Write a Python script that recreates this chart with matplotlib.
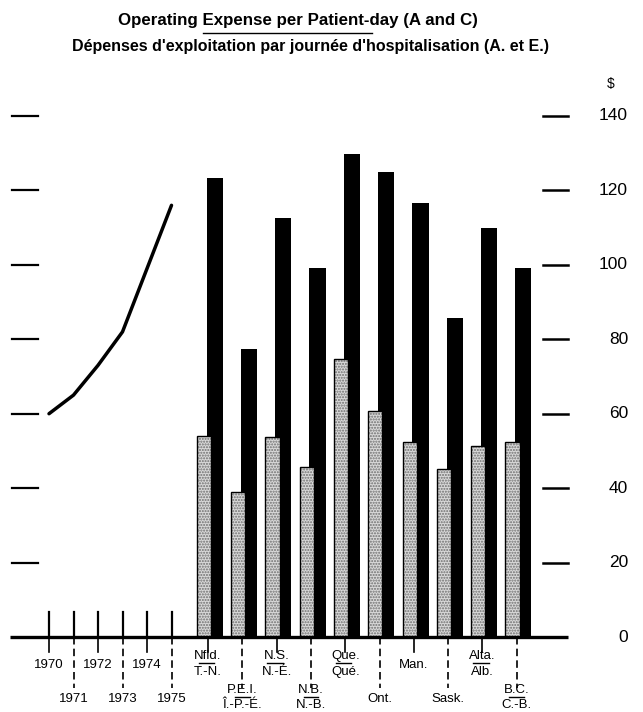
import matplotlib
matplotlib.use('Agg')
import matplotlib.pyplot as plt
import numpy as np

plt.rcParams['font.family'] = ['Liberation Sans', 'DejaVu Sans']

# ---------------- data ----------------
years = [1970, 1971, 1972, 1973, 1974, 1975]
year_values = [60, 65, 73, 82, 99, 116]

prov_top = ['Nfld.', 'P.E.I.', 'N.S.', 'N.B.', 'Que.', 'Ont.', 'Man.', 'Sask.', 'Alta.', 'B.C.']
prov_bottom = ['T.-N.', 'Î.-P.-É.', 'N.-É.', 'N.-B.', 'Qué.', '', '', '', 'Alb.', 'C.-B.']
prov_dotted = [54.0, 39.0, 53.8, 45.7, 74.7, 60.8, 52.5, 45.1, 51.2, 52.3]
prov_black = [123.4, 77.4, 112.6, 99.2, 129.8, 125.0, 116.7, 85.8, 110.0, 99.2]

yticks = [0, 20, 40, 60, 80, 100, 120, 140]

title1 = 'Operating Expense per Patient-day (A and C)'
title2 = "Dépenses d'exploitation par journée d'hospitalisation (A. et E.)"

# ---------------- layout ----------------
W, H = 643, 712
fig = plt.figure(figsize=(W / 100, H / 100), dpi=100)
ax = fig.add_axes([10 / W, 1 - 637 / H, 558 / W, (637 - 116) / H])
U = 24.5  # pixels per year slot
X0 = 49   # pixel of 1970
ax.set_xlim((10 - X0) / U, (568 - X0) / U)
ax.set_ylim(0, 140)
ax.axis('off')

year_x = np.arange(len(years))
prov_x = 6.49 + 1.4 * np.arange(len(prov_top))

FS = 9.5
DASH = (0, (4.5, 2.5))

# line
ax.plot(year_x, year_values, color='black', lw=2.5, solid_capstyle='round',
        solid_joinstyle='round', clip_on=False, zorder=3)

# bars: black behind, dotted in front
ax.bar(prov_x + 0.27, prov_black, width=0.66, color='black', zorder=2, clip_on=False)
ax.bar(prov_x - 0.17, prov_dotted, width=0.58, color='#d9d9d9', edgecolor='#6e6e6e',
       linewidth=0, hatch='......', zorder=3, clip_on=False)
ax.bar(prov_x - 0.17, prov_dotted, width=0.58, fill=False, edgecolor='black',
       linewidth=1.0, zorder=4, clip_on=False)

# baseline
ax.plot([(10 - X0) / U, (568 - X0) / U], [0, 0], color='black', lw=2.4,
        clip_on=False, zorder=5, solid_capstyle='butt')

# left / right tick dashes
for v in yticks[1:]:
    ax.plot([(12 - X0) / U, (38 - X0) / U], [v, v], color='black', lw=1.6, clip_on=False)
    ax.plot([(543 - X0) / U, (568 - X0) / U], [v, v], color='black', lw=1.8, clip_on=False)
for v in yticks:
    ax.text((628 - X0) / U, v, str(v), ha='right', va='center', fontsize=12.5,
            clip_on=False)
ax.text((611 - X0) / U, 140 + (116 - 84) / 3.72, '$', ha='center', va='center',
        fontsize=10, clip_on=False)

# year ticks and labels
for i, (x, yr) in enumerate(zip(year_x, years)):
    ax.plot([x, x], [0, 6.7], color='black', lw=1.6, clip_on=False)
    if i % 2 == 0:
        ax.plot([x, x], [0, -4.0], color='black', lw=1.2, clip_on=False)
        ax.text(x, -8.3, str(yr), ha='center', va='baseline', fontsize=FS, clip_on=False)
    else:
        ax.plot([x, x], [0, -13.6], color='black', lw=1.2, ls=DASH, clip_on=False)
        ax.text(x, -17.5, str(yr), ha='center', va='baseline', fontsize=FS, clip_on=False)

# province ticks and labels
for j, (x, t, b) in enumerate(zip(prov_x, prov_top, prov_bottom)):
    if j % 2 == 0:
        ax.plot([x, x], [0, -4.0], color='black', lw=1.2, clip_on=False)
        if b:
            ax.text(x, -5.9, t, ha='center', va='baseline', fontsize=FS, clip_on=False)
            ax.text(x, -10.2, b, ha='center', va='baseline', fontsize=FS, clip_on=False)
            ax.plot([x - 0.38, x + 0.25], [-7.0, -7.0], color='black', lw=1.0,
                    clip_on=False)
        else:
            ax.text(x, -8.3, t, ha='center', va='baseline', fontsize=FS, clip_on=False)
    else:
        ax.plot([x, x], [0, -13.6], color='black', lw=1.2, ls=DASH, clip_on=False)
        if b:
            ax.text(x, -15.0, t, ha='center', va='baseline', fontsize=FS, clip_on=False)
            ax.text(x, -19.0, b, ha='center', va='baseline', fontsize=FS, clip_on=False)
            ax.plot([x - 0.3, x + 0.3], [-16.1, -16.1], color='black', lw=1.0,
                    clip_on=False)
        else:
            ax.text(x, -17.5, t, ha='center', va='baseline', fontsize=FS, clip_on=False)

# titles
fig.text(298 / W, 1 - 20 / H, title1, ha='center', va='center', fontsize=12.2,
         fontweight='bold')
fig.text(310 / W, 1 - 46 / H, title2, ha='center', va='center', fontsize=11.5,
         fontweight='bold')
fig.add_artist(plt.Line2D([203 / W, 372 / W], [1 - 33 / H, 1 - 33 / H],
                          color='black', lw=1.0))

fig.savefig('out.png', dpi=100)
